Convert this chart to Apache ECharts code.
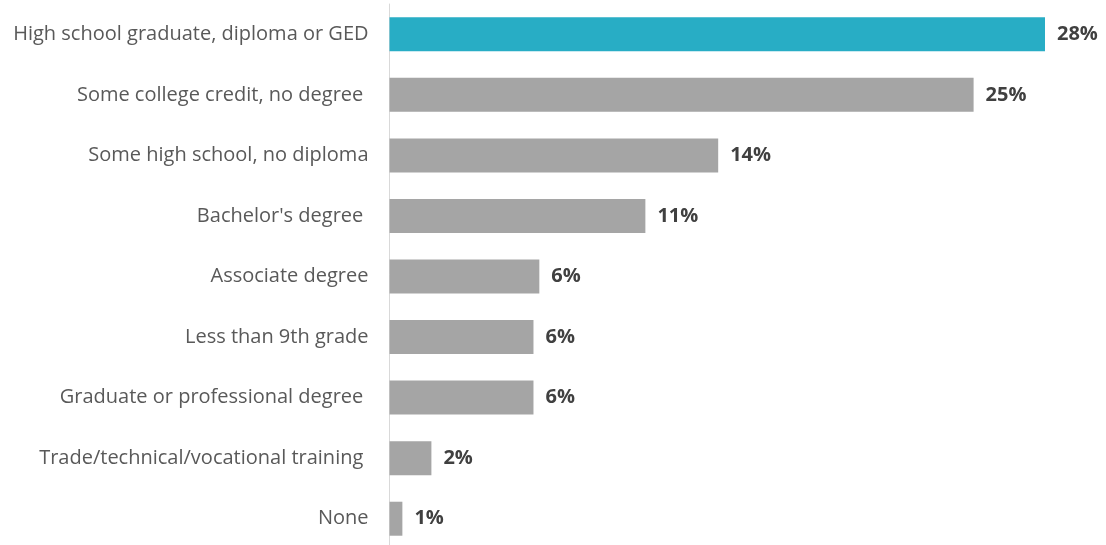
<!DOCTYPE html>
<html>
<head>
<meta charset="utf-8">
<script src="https://cdn.jsdelivr.net/npm/echarts@6/dist/echarts.min.js"></script>
<style>
  html, body { margin: 0; padding: 0; background: #ffffff; }
  #chart { width: 1106px; height: 545px; }
</style>
</head>
<body>
<div id="chart"></div>
<script>
// Highest level of education completed (share of respondents, %)
const categories = [
  "High school graduate, diploma or GED",
  "Some college credit, no degree ",
  "Some high school, no diploma",
  "Bachelor's degree ",
  "Associate degree",
  "Less than 9th grade",
  "Graduate or professional degree ",
  "Trade/technical/vocational training ",
  "None"
];
const shares = [28, 24.95, 14.04, 10.93, 6.4, 6.15, 6.15, 1.79, 0.55];
const highlightIndex = 0;

const chart = echarts.init(document.getElementById('chart'), null, { renderer: 'canvas' });

chart.setOption({
  animation: false,
  backgroundColor: '#ffffff',
  grid: {
    left: 389.5, right: 61, top: 4, height: 545,
    containLabel: false,
    outerBoundsMode: 'none'
  },
  xAxis: {
    type: 'value',
    min: 0,
    max: 28,
    show: false
  },
  yAxis: {
    type: 'category',
    inverse: true,
    data: categories,
    axisLine: { show: true, lineStyle: { color: '#d9d9d9', width: 1 } },
    axisTick: { show: false },
    axisLabel: {
      color: '#595959',
      fontFamily: '"Open Sans", "Noto Sans", sans-serif',
      fontSize: 20,
      margin: 21
    }
  },
  series: [{
    type: 'bar',
    barWidth: 34,
    data: shares.map((v, i) => ({
      value: v,
      itemStyle: { color: i === highlightIndex ? '#28adc5' : '#a5a5a5' }
    })),
    label: {
      show: true,
      position: 'right',
      distance: 12,
      color: '#404040',
      fontWeight: 'bold',
      fontFamily: '"Open Sans", "Noto Sans", sans-serif',
      fontSize: 20,
      formatter: p => Math.round(p.value) + '%'
    }
  }]
});
</script>
</body>
</html>
